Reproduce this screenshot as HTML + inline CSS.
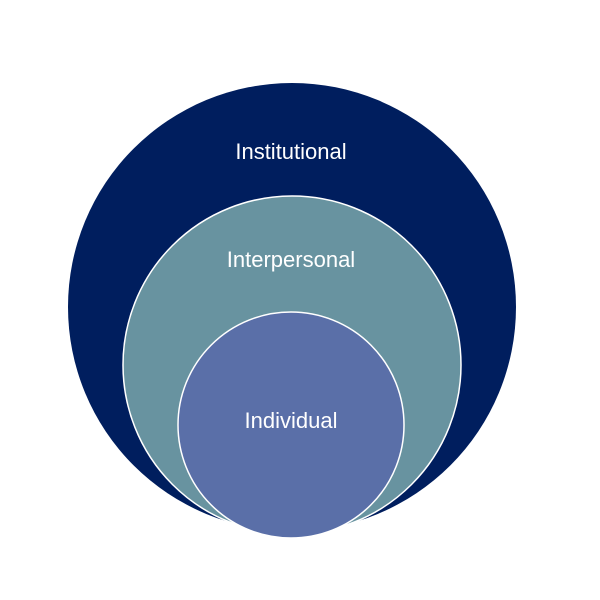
<!DOCTYPE html>
<html><head><style>body{margin:0;background:#fff}svg{display:block}</style></head>
<body>
<svg width="600" height="600" viewBox="0 0 600 600" xmlns="http://www.w3.org/2000/svg">
<circle cx="292" cy="307" r="224" fill="#001e5e"/>
<circle cx="292" cy="365" r="169" fill="#6893a0" stroke="#fff" stroke-width="1.5"/>
<circle cx="291" cy="425" r="113" fill="#5a6fa8" stroke="#fff" stroke-width="1.5"/>
<g font-family="Liberation Sans, sans-serif" font-size="22" fill="#fff" text-anchor="middle">
<text x="291" y="159">Institutional</text>
<text x="291" y="267">Interpersonal</text>
<text x="291" y="428">Individual</text>
</g>
</svg>
</body></html>
